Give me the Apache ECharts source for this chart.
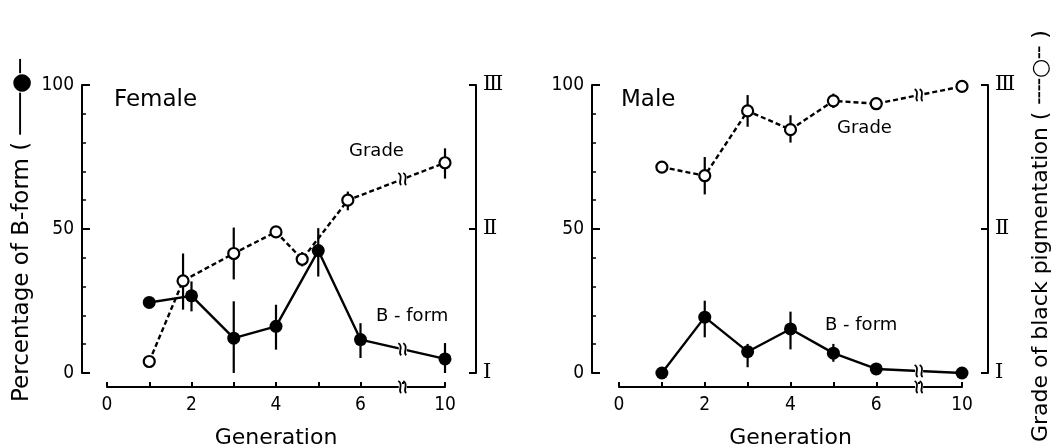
<!DOCTYPE html>
<html><head><meta charset="utf-8">
<script src="https://cdn.jsdelivr.net/npm/echarts@6/dist/echarts.min.js"></script>
<style>html,body{margin:0;padding:0;background:#fff}#c{width:1056px;height:448px}</style>
</head><body><div id="c"></div>
<script>
// Generation values (gen 10 sits after the axis break)
const xTickLabels = {0:'0', 2:'2', 4:'4', 6:'6', 10:'10'};
const gradeTickLabels = {1:'Ⅰ', 2:'Ⅱ', 3:'Ⅲ'};

// Female
const femaleGradeGen  = [1, 1.8, 3, 4, 4.62, 5.7, 10];
const femaleGrade     = [1.08, 1.64, 1.83, 1.98, 1.79, 2.20, 2.46];
const femaleGradeLow  = [null, 1.44, 1.65, null, 1.74, 2.13, 2.35];
const femaleGradeHigh = [null, 1.83, 2.01, null, 1.84, 2.26, 2.56];
const femaleBGen      = [1, 2, 3, 4, 5, 6, 10];
const femaleB         = [24.5, 26.8, 12.1, 16.2, 42.5, 11.6, 4.9];
const femaleBLow      = [null, 21.4, 0, 8.1, 33.5, 5.2, 0];
const femaleBHigh     = [null, 31.8, 24.9, 23.7, 50.3, 17.3, 10.4];

// Male
const maleGradeGen  = [1, 2, 3, 4, 5, 6, 10];
const maleGrade     = [2.43, 2.37, 2.82, 2.69, 2.89, 2.87, 2.99];
const maleGradeLow  = [null, 2.24, 2.71, 2.60, 2.84, null, null];
const maleGradeHigh = [null, 2.50, 2.93, 2.79, 2.94, null, null];
const maleBGen      = [1, 2, 3, 4, 5, 6, 10];
const maleB         = [0, 19.4, 7.4, 15.3, 6.9, 1.4, 0];
const maleBLow      = [null, 12.4, 2.0, 8.2, 3.9, null, null];
const maleBHigh     = [null, 25.1, 10.1, 21.3, 10.1, null, null];

const FONT = 'DejaVu Sans';
const TICKFONT = '"DejaVu Sans Condensed", "Liberation Sans Narrow", "DejaVu Sans"';
const BREAK_POS = 7;
// axis position: generations after the break are shifted by 2
const pos = g => (g > 7 ? g - 2 : g);
const posToLabel = {};
Object.keys(xTickLabels).forEach(k => { posToLabel[pos(+k)] = xTickLabels[k]; });

function pairs(gens, vals) { return gens.map((g, i) => [pos(g), vals[i]]); }
function errs(gens, lo, hi) {
  const out = [];
  gens.forEach((g, i) => { if (lo[i] != null) out.push([pos(g), lo[i], hi[i]]); });
  return out;
}
// value on the line at the break position, from the last two points
function atBreak(gens, vals) {
  const n = gens.length, x0 = pos(gens[n-2]), x1 = pos(gens[n-1]);
  return vals[n-2] + (vals[n-1] - vals[n-2]) * (BREAK_POS - x0) / (x1 - x0);
}

const grids = [
  {left: 107, right: 1056 - 445, top: 85, bottom: 75, lOff: 25, rOff: 31},
  {left: 619, right: 1056 - 962, top: 85, bottom: 75, lOff: 27, rOff: 26}
];
const X_OFF = 14;

const xAxes = grids.map((g, i) => ({
  type: 'value', gridIndex: i, min: 0, max: 8, interval: 1, offset: X_OFF,
  name: 'Generation', nameLocation: 'middle', nameGap: 40,
  nameTextStyle: {fontFamily: FONT, fontSize: 22, color: '#000'},
  axisLine: {onZero: false, lineStyle: {color: '#000', width: 2}},
  axisTick: {inside: true, length: 5, lineStyle: {color: '#000', width: 2}},
  axisLabel: {margin: 9, fontFamily: TICKFONT, fontSize: 19, color: '#000',
    formatter: v => posToLabel[v] || ''},
  splitLine: {show: false}
}));

const yAxes = [];
grids.forEach((g, i) => {
  yAxes.push({
    type: 'value', gridIndex: i, position: 'left', min: 0, max: 100, interval: 50, offset: g.lOff,
    axisLine: {show: true, onZero: false, lineStyle: {color: '#000', width: 2}},
    axisTick: {inside: true, length: 8, lineStyle: {color: '#000', width: 2}},
    minorTick: {show: true, splitNumber: 5, length: 4, lineStyle: {color: '#000', width: 1.5}},
    axisLabel: {margin: 8, fontFamily: TICKFONT, fontSize: 19, color: '#000'},
    splitLine: {show: false}
  });
  yAxes.push({
    type: 'value', gridIndex: i, position: 'right', min: 1, max: 3, interval: 1, offset: g.rOff,
    axisLine: {show: true, onZero: false, lineStyle: {color: '#000', width: 2}},
    axisTick: {inside: true, length: 7, lineStyle: {color: '#000', width: 2}},
    axisLabel: {margin: 7, fontFamily: 'DejaVu Serif', fontSize: 21, color: '#000',
      formatter: v => gradeTickLabels[v] || ''},
    splitLine: {show: false}
  });
});

function errorSeries(xi, yi, data) {
  return {
    type: 'custom', xAxisIndex: xi, yAxisIndex: yi, data: data, z: 1, clip: false,
    renderItem: (params, api) => {
      const a = api.coord([api.value(0), api.value(1)]);
      const b = api.coord([api.value(0), api.value(2)]);
      return {type: 'line', shape: {x1: a[0], y1: a[1], x2: b[0], y2: b[1]},
        style: {stroke: '#000', lineWidth: 2.2}};
    }
  };
}
function breakShape(x, y) {
  const mk = dx => ({type: 'bezierCurve', shape: {
      x1: x + dx - 2, y1: y - 6, x2: x + dx + 1, y2: y + 6,
      cpx1: x + dx + 4, cpy1: y - 3, cpx2: x + dx - 3, cpy2: y + 3},
    style: {stroke: '#000', lineWidth: 1.8, fill: null}});
  return {type: 'group', children: [
    {type: 'rect', shape: {x: x - 4, y: y - 3, width: 8, height: 6}, style: {fill: '#fff'}},
    mk(-2.5), mk(2.5)
  ]};
}
function breakSeries(xi, yi, yVal, pxOffset) {
  return {
    type: 'custom', xAxisIndex: xi, yAxisIndex: yi, data: [[BREAK_POS, yVal]], z: 5, clip: false,
    renderItem: (params, api) => {
      const p = api.coord([api.value(0), api.value(1)]);
      return breakShape(p[0], p[1] + (pxOffset || 0));
    }
  };
}
function bSeries(xi, yi, data) {
  return {type: 'line', xAxisIndex: xi, yAxisIndex: yi, data: data, z: 3, clip: false,
    symbol: 'circle', symbolSize: 13, showAllSymbol: true,
    lineStyle: {color: '#000', width: 2.4},
    itemStyle: {color: '#000', borderColor: '#000', borderWidth: 0}};
}
function gSeries(xi, yi, data) {
  return {type: 'line', xAxisIndex: xi, yAxisIndex: yi, data: data, z: 4, clip: false,
    symbol: 'circle', symbolSize: 11, showAllSymbol: true,
    lineStyle: {color: '#000', width: 2.4, type: [5, 3]},
    itemStyle: {color: '#fff', borderColor: '#000', borderWidth: 2.2}};
}

const series = [
  // Female (grid 0): yAxis 0 = percent, yAxis 1 = grade
  errorSeries(0, 1, errs(femaleGradeGen, femaleGradeLow, femaleGradeHigh)),
  errorSeries(0, 0, errs(femaleBGen, femaleBLow, femaleBHigh)),
  gSeries(0, 1, pairs(femaleGradeGen, femaleGrade)),
  bSeries(0, 0, pairs(femaleBGen, femaleB)),
  breakSeries(0, 1, atBreak(femaleGradeGen, femaleGrade)),
  breakSeries(0, 0, atBreak(femaleBGen, femaleB)),
  breakSeries(0, 0, 0, X_OFF),
  // Male (grid 1): yAxis 2 = percent, yAxis 3 = grade
  errorSeries(1, 3, errs(maleGradeGen, maleGradeLow, maleGradeHigh)),
  errorSeries(1, 2, errs(maleBGen, maleBLow, maleBHigh)),
  gSeries(1, 3, pairs(maleGradeGen, maleGrade)),
  bSeries(1, 2, pairs(maleBGen, maleB)),
  breakSeries(1, 3, atBreak(maleGradeGen, maleGrade)),
  breakSeries(1, 2, atBreak(maleBGen, maleB)),
  breakSeries(1, 2, 0, X_OFF)
];

const txt = (left, top, text, size) => ({
  type: 'text', left: left, top: top,
  style: {text: text, font: size + 'px "' + FONT + '"', fill: '#000'}
});

const graphic = [
  txt(114, 89, 'Female', 23),
  txt(349, 142, 'Grade', 18),
  txt(376, 307, 'B - form', 18),
  txt(621, 89, 'Male', 23),
  txt(837, 119, 'Grade', 18),
  txt(825, 316, 'B - form', 18),
  {type: 'text', x: 22, y: 402, rotation: Math.PI / 2,
    style: {text: 'Percentage of B-form ( ───●─', font: '23px "' + FONT + '"', fill: '#000',
      verticalAlign: 'middle', align: 'left'}},
  {type: 'text', x: 1041, y: 442, rotation: Math.PI / 2,
    style: {text: 'Grade of black pigmentation ( ╌╌○╌ )', font: '22px "' + FONT + '"', fill: '#000',
      verticalAlign: 'middle', align: 'left'}}
];

const chart = echarts.init(document.getElementById('c'), null, {renderer: 'canvas'});
chart.setOption({
  animation: false,
  backgroundColor: '#fff',
  grid: grids.map(g => ({left: g.left, right: g.right, top: g.top, bottom: g.bottom,
    outerBoundsMode: 'none', containLabel: false})),
  xAxis: xAxes,
  yAxis: yAxes,
  series: series,
  graphic: graphic
});
</script>
</body></html>
